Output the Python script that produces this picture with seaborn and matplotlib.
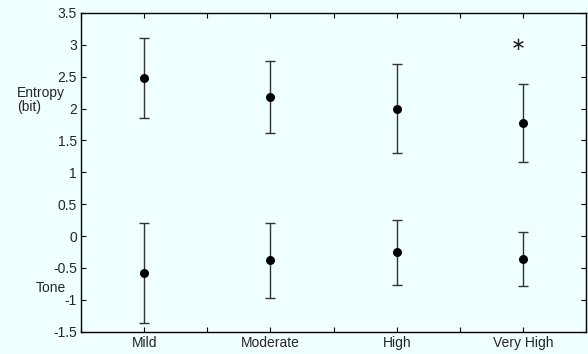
"""
Entropy and tone by intensity level: means with error bars.
"""
import matplotlib
matplotlib.use("Agg")
import matplotlib.pyplot as plt
import seaborn as sns
import pandas as pd
from matplotlib.ticker import MultipleLocator

# 1. Data
levels = ['Mild', 'Moderate', 'High', 'Very High']
entropy_mean = [2.48, 2.18, 2.00, 1.78]
entropy_err = [0.63, 0.57, 0.70, 0.61]
tone_mean = [-0.58, -0.38, -0.25, -0.36]
tone_err = [0.79, 0.59, 0.51, 0.43]

df = pd.DataFrame({
    'pos': list(range(1, 5)) * 2,
    'value': entropy_mean + tone_mean,
    'err': entropy_err + tone_err,
})

# 2. Style
sns.set_theme(style="ticks")
plt.rcParams['font.family'] = ['Liberation Sans', 'DejaVu Sans']
bg = '#f0ffff'

fig = plt.figure(figsize=(5.88, 3.54), dpi=100, facecolor=bg)
ax = fig.add_axes([0.1378, 0.063, 0.859, 0.9003])
ax.set_facecolor(bg)

# 3. Error bars + mean markers
ax.errorbar(df['pos'], df['value'], yerr=df['err'], fmt='none',
            ecolor='#333333', elinewidth=1, capsize=3.5, capthick=1, zorder=2)
sns.scatterplot(data=df, x='pos', y='value', color='black', s=42,
                edgecolor='black', linewidth=0, ax=ax, zorder=3)

# significance marker
ax.text(3.96, 3.0, '\u2217', ha='center', va='center', fontsize=13,
        family=['DejaVu Sans'], color='#222222')

# 4. Axes
ax.set_xlim(0.5, 4.5)
ax.set_ylim(-1.5, 3.5)
ax.set_xticks(range(1, 5))
ax.set_xticklabels(levels)
ax.xaxis.set_minor_locator(MultipleLocator(0.5))
ax.yaxis.set_major_locator(MultipleLocator(0.5))
ax.set_yticklabels([f'{v:g}' for v in ax.get_yticks()])
ax.set_xlabel('')
ax.set_ylabel('')
ax.tick_params(which='both', direction='in', top=True, right=True,
               labelsize=10, length=3.5, width=0.8, color='black', pad=3)
ax.tick_params(which='minor', length=3.5)
for s in ax.spines.values():
    s.set_color('black')
    s.set_linewidth(1)

fig.text(17 / 588, 1 - 100 / 354, 'Entropy\n(bit)', ha='left', va='center',
         fontsize=10, linespacing=1.05)
fig.text(66 / 588, 1 - 288 / 354, 'Tone', ha='right', va='center', fontsize=10)

fig.savefig('out.png', dpi=100, facecolor=bg)
